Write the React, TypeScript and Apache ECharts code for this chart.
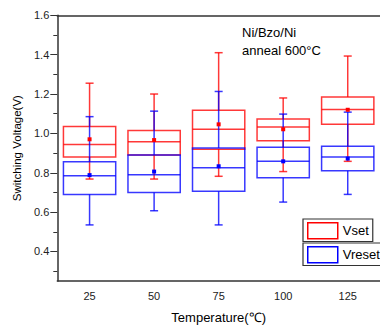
import React, { useEffect, useRef } from "react";
import * as echarts from "echarts";

const categories = ["25", "50", "75", "100", "125"];

const vsetMax = [1.255, 1.2, 1.41, 1.18, 1.393];
const vsetQ3 = [1.035, 1.015, 1.118, 1.073, 1.185];
const vsetMedian = [0.943, 0.957, 1.021, 1.033, 1.122];
const vsetQ1 = [0.88, 0.89, 0.92, 0.963, 1.046];
const vsetMin = [0.768, 0.768, 0.782, 0.806, 0.858];
const vsetMean = [0.97, 0.966, 1.046, 1.021, 1.12];

const vresetMax = [1.085, 1.113, 1.213, 1.098, 1.108];
const vresetQ3 = [0.856, 0.89, 0.926, 0.93, 0.935];
const vresetMedian = [0.785, 0.79, 0.825, 0.858, 0.88];
const vresetQ1 = [0.69, 0.7, 0.706, 0.775, 0.81];
const vresetMin = [0.535, 0.607, 0.535, 0.651, 0.69];
const vresetMean = [0.788, 0.806, 0.833, 0.858, 0.872];

const yMajorTicks = [0.4, 0.6, 0.8, 1.0, 1.2, 1.4, 1.6];
const yMinorTicks = [0.3, 0.5, 0.7, 0.9, 1.1, 1.3, 1.5];

const FONT = "Arial, 'Liberation Sans', sans-serif";
const RED = "#ff0000";
const BLUE = "#0000ff";
const RED_LINE = "rgba(255,0,0,0.78)";
const BLUE_LINE = "rgba(0,0,255,0.78)";

const buildRows = (mn: number[], q1: number[], md: number[], q3: number[], mx: number[], mean: number[]) =>
  categories.map((_, i) => [i, mn[i], q1[i], md[i], q3[i], mx[i], mean[i]]);

const makeRender = (lineColor: string, solid: string) => (params: any, api: any) => {
  const i = api.value(0);
  const mn = api.value(1);
  const q1 = api.value(2);
  const md = api.value(3);
  const q3 = api.value(4);
  const mx = api.value(5);
  const mean = api.value(6);
  const pMax = api.coord([i, mx]);
  const cx = pMax[0];
  const yMax = pMax[1];
  const yQ3 = api.coord([i, q3])[1];
  const yMd = api.coord([i, md])[1];
  const yQ1 = api.coord([i, q1])[1];
  const yMin = api.coord([i, mn])[1];
  const yMean = api.coord([i, mean])[1];
  const band = api.size([1, 0])[0];
  const hw = band * 0.405;
  const cap = 4;
  const ls = { stroke: lineColor, lineWidth: 1.5, fill: "none" };
  return {
    type: "group",
    children: [
      { type: "rect", shape: { x: cx - hw, y: yQ3, width: hw * 2, height: yQ1 - yQ3 }, style: ls },
      { type: "line", shape: { x1: cx - hw, y1: yMd, x2: cx + hw, y2: yMd }, style: ls },
      { type: "line", shape: { x1: cx, y1: yMax, x2: cx, y2: yQ3 }, style: ls },
      { type: "line", shape: { x1: cx, y1: yQ1, x2: cx, y2: yMin }, style: ls },
      { type: "line", shape: { x1: cx - cap, y1: yMax, x2: cx + cap, y2: yMax }, style: ls },
      { type: "line", shape: { x1: cx - cap, y1: yMin, x2: cx + cap, y2: yMin }, style: ls },
      { type: "rect", z2: 10, shape: { x: cx - 2, y: yMean - 2, width: 4, height: 4 }, style: { fill: solid } },
    ],
  };
};

export default function App() {
  const ref = useRef<HTMLDivElement>(null);
  useEffect(() => {
    if (!ref.current) return;
    const chart = echarts.init(ref.current, null, { renderer: "svg" });
    const axisLineStyle = { color: "#333", width: 1.5 };
    const legendBase = {
      orient: "horizontal",
      left: 303,
      itemWidth: 30,
      itemHeight: 16,
      padding: [3, 4, 2, 4],
      borderColor: "#333",
      borderWidth: 1.2,
      selectedMode: false,
      textStyle: { fontSize: 13, color: "#000", fontFamily: FONT },
    };
    chart.setOption({
      animation: false,
      backgroundColor: "#fff",
      textStyle: { fontFamily: FONT },
      grid: { left: 57.3, top: 15.3, bottom: 44, right: -10.6, containLabel: false },
      xAxis: [
        {
          type: "category",
          data: categories,
          position: "bottom",
          boundaryGap: true,
          axisLine: { lineStyle: axisLineStyle },
          axisTick: { alignWithLabel: true, length: 5, lineStyle: { color: "#333" } },
          axisLabel: { fontSize: 11, color: "#222", margin: 9, fontFamily: FONT },
          name: "Temperature(℃)",
          nameLocation: "middle",
          nameGap: 30,
          nameTextStyle: { fontSize: 13, color: "#000", fontFamily: FONT },
          splitLine: { show: false },
        },
        {
          type: "category",
          data: categories,
          position: "top",
          boundaryGap: true,
          axisLine: { lineStyle: axisLineStyle },
          axisTick: { alignWithLabel: true, inside: true, length: 5, lineStyle: { color: "#333" } },
          axisLabel: { show: false },
          splitLine: { show: false },
        },
      ],
      yAxis: [
        {
          type: "value",
          position: "left",
          min: 0.25,
          max: 1.6,
          axisLine: { show: true, lineStyle: axisLineStyle },
          axisTick: { show: true, length: 7, customValues: yMajorTicks, lineStyle: { color: "#333" } },
          axisLabel: {
            customValues: yMajorTicks,
            fontSize: 11,
            color: "#222",
            margin: 8,
            fontFamily: FONT,
            formatter: (v: number) => v.toFixed(1),
          },
          splitLine: { show: false },
          name: "Switching Voltage(V)",
          nameLocation: "middle",
          nameGap: 28,
          nameTextStyle: { fontSize: 11.5, color: "#000", fontFamily: FONT },
        },
        {
          type: "value",
          position: "left",
          min: 0.25,
          max: 1.6,
          axisLine: { show: false },
          axisTick: { show: true, length: 4, customValues: yMinorTicks, lineStyle: { color: "#333" } },
          axisLabel: { show: false },
          splitLine: { show: false },
        },
      ],
      legend: [
        {
          ...legendBase,
          top: 219,
          data: [
            { name: "Vset", icon: "rect", itemStyle: { color: "rgba(255,255,255,0)", borderColor: RED, borderWidth: 1.5 } },
          ],
        },
        {
          ...legendBase,
          top: 243,
          data: [
            { name: "Vreset", icon: "rect", itemStyle: { color: "rgba(255,255,255,0)", borderColor: BLUE, borderWidth: 1.5 } },
          ],
        },
      ],
      graphic: [
        { type: "text", x: 242, y: 32.3, style: { text: "Ni/Bzo/Ni", fontSize: 13, fill: "#000", fontFamily: FONT, verticalAlign: "middle" } },
        { type: "text", x: 242, y: 50.7, style: { text: "anneal 600°C", fontSize: 13, fill: "#000", fontFamily: FONT, verticalAlign: "middle" } },
      ],
      series: [
        {
          name: "Vset",
          type: "custom",
          renderItem: makeRender(RED_LINE, RED),
          encode: { x: 0, y: [1, 2, 3, 4, 5, 6] },
          data: buildRows(vsetMin, vsetQ1, vsetMedian, vsetQ3, vsetMax, vsetMean),
          itemStyle: { color: RED },
        },
        {
          name: "Vreset",
          type: "custom",
          renderItem: makeRender(BLUE_LINE, BLUE),
          encode: { x: 0, y: [1, 2, 3, 4, 5, 6] },
          data: buildRows(vresetMin, vresetQ1, vresetMedian, vresetQ3, vresetMax, vresetMean),
          itemStyle: { color: BLUE },
        },
      ],
    });
    return () => chart.dispose();
  }, []);
  return <div ref={ref} style={{ position: "fixed", left: 0, top: 0, width: 380, height: 329 }} />;
}
